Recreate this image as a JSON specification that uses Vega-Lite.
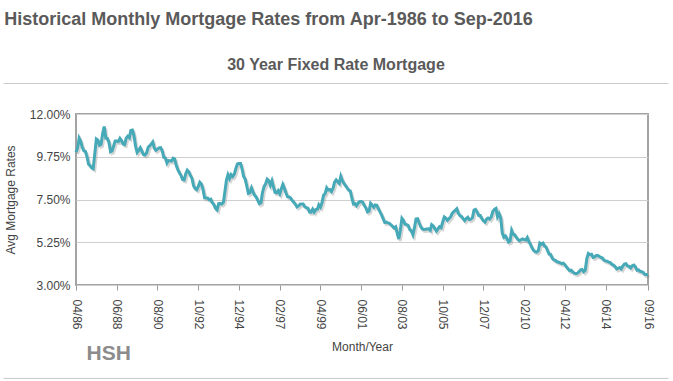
{
  "$schema": "https://vega.github.io/schema/vega-lite/v6.json",
  "background": "white",
  "padding": {"left": 4, "top": 11, "right": 3, "bottom": 2},
  "title": {"text": "Historical Monthly Mortgage Rates from Apr-1986 to Sep-2016", "anchor": "start", "font": "Liberation Sans", "fontSize": 18, "fontWeight": "bold", "color": "#5a5a5a", "offset": 27},
  "width": 572,
  "height": 171,
  "view": {"stroke": "#a3a3a3", "strokeWidth": 2},
  "resolve": {"scale": {"x": "independent"}, "axis": {"x": "independent"}},
  "layer": [
    {
      "data": {"values": [
{"d":"1986-04-01","r":9.99},{"d":"1986-05-01","r":10.20},{"d":"1986-06-01","r":10.73},{"d":"1986-07-01","r":10.56},{"d":"1986-08-01","r":10.25},{"d":"1986-09-01","r":10.06},{"d":"1986-10-01","r":10.03},{"d":"1986-11-01","r":9.75},{"d":"1986-12-01","r":9.36},
{"d":"1987-01-01","r":9.28},{"d":"1987-02-01","r":9.16},{"d":"1987-03-01","r":9.12},{"d":"1987-04-01","r":9.91},{"d":"1987-05-01","r":10.68},{"d":"1987-06-01","r":10.62},{"d":"1987-07-01","r":10.36},{"d":"1987-08-01","r":10.41},{"d":"1987-09-01","r":10.97},{"d":"1987-10-01","r":11.34},{"d":"1987-11-01","r":10.73},{"d":"1987-12-01","r":10.72},
{"d":"1988-01-01","r":10.50},{"d":"1988-02-01","r":10.01},{"d":"1988-03-01","r":10.05},{"d":"1988-04-01","r":10.32},{"d":"1988-05-01","r":10.58},{"d":"1988-06-01","r":10.58},{"d":"1988-07-01","r":10.55},{"d":"1988-08-01","r":10.72},{"d":"1988-09-01","r":10.60},{"d":"1988-10-01","r":10.42},{"d":"1988-11-01","r":10.39},{"d":"1988-12-01","r":10.73},
{"d":"1989-01-01","r":10.83},{"d":"1989-02-01","r":10.75},{"d":"1989-03-01","r":11.13},{"d":"1989-04-01","r":11.15},{"d":"1989-05-01","r":10.87},{"d":"1989-06-01","r":10.30},{"d":"1989-07-01","r":9.98},{"d":"1989-08-01","r":10.09},{"d":"1989-09-01","r":10.23},{"d":"1989-10-01","r":10.05},{"d":"1989-11-01","r":9.87},{"d":"1989-12-01","r":9.84},
{"d":"1990-01-01","r":9.95},{"d":"1990-02-01","r":10.25},{"d":"1990-03-01","r":10.32},{"d":"1990-04-01","r":10.42},{"d":"1990-05-01","r":10.53},{"d":"1990-06-01","r":10.21},{"d":"1990-07-01","r":10.09},{"d":"1990-08-01","r":10.15},{"d":"1990-09-01","r":10.22},{"d":"1990-10-01","r":10.23},{"d":"1990-11-01","r":10.06},{"d":"1990-12-01","r":9.72},
{"d":"1991-01-01","r":9.69},{"d":"1991-02-01","r":9.42},{"d":"1991-03-01","r":9.55},{"d":"1991-04-01","r":9.54},{"d":"1991-05-01","r":9.52},{"d":"1991-06-01","r":9.67},{"d":"1991-07-01","r":9.63},{"d":"1991-08-01","r":9.29},{"d":"1991-09-01","r":9.06},{"d":"1991-10-01","r":8.91},{"d":"1991-11-01","r":8.76},{"d":"1991-12-01","r":8.55},
{"d":"1992-01-01","r":8.53},{"d":"1992-02-01","r":8.86},{"d":"1992-03-01","r":9.04},{"d":"1992-04-01","r":8.95},{"d":"1992-05-01","r":8.77},{"d":"1992-06-01","r":8.61},{"d":"1992-07-01","r":8.23},{"d":"1992-08-01","r":8.08},{"d":"1992-09-01","r":8.02},{"d":"1992-10-01","r":8.19},{"d":"1992-11-01","r":8.41},{"d":"1992-12-01","r":8.32},
{"d":"1993-01-01","r":8.03},{"d":"1993-02-01","r":7.59},{"d":"1993-03-01","r":7.58},{"d":"1993-04-01","r":7.58},{"d":"1993-05-01","r":7.49},{"d":"1993-06-01","r":7.52},{"d":"1993-07-01","r":7.33},{"d":"1993-08-01","r":7.23},{"d":"1993-09-01","r":7.03},{"d":"1993-10-01","r":6.95},{"d":"1993-11-01","r":7.28},{"d":"1993-12-01","r":7.29},
{"d":"1994-01-01","r":7.26},{"d":"1994-02-01","r":7.35},{"d":"1994-03-01","r":7.88},{"d":"1994-04-01","r":8.52},{"d":"1994-05-01","r":8.80},{"d":"1994-06-01","r":8.60},{"d":"1994-07-01","r":8.81},{"d":"1994-08-01","r":8.71},{"d":"1994-09-01","r":8.84},{"d":"1994-10-01","r":9.13},{"d":"1994-11-01","r":9.37},{"d":"1994-12-01","r":9.40},
{"d":"1995-01-01","r":9.40},{"d":"1995-02-01","r":9.08},{"d":"1995-03-01","r":8.71},{"d":"1995-04-01","r":8.57},{"d":"1995-05-01","r":8.21},{"d":"1995-06-01","r":7.82},{"d":"1995-07-01","r":7.86},{"d":"1995-08-01","r":8.11},{"d":"1995-09-01","r":7.89},{"d":"1995-10-01","r":7.73},{"d":"1995-11-01","r":7.63},{"d":"1995-12-01","r":7.45},
{"d":"1996-01-01","r":7.28},{"d":"1996-02-01","r":7.33},{"d":"1996-03-01","r":7.87},{"d":"1996-04-01","r":8.18},{"d":"1996-05-01","r":8.32},{"d":"1996-06-01","r":8.57},{"d":"1996-07-01","r":8.50},{"d":"1996-08-01","r":8.25},{"d":"1996-09-01","r":8.48},{"d":"1996-10-01","r":8.17},{"d":"1996-11-01","r":7.87},{"d":"1996-12-01","r":7.85},
{"d":"1997-01-01","r":7.97},{"d":"1997-02-01","r":7.80},{"d":"1997-03-01","r":8.05},{"d":"1997-04-01","r":8.29},{"d":"1997-05-01","r":8.09},{"d":"1997-06-01","r":7.84},{"d":"1997-07-01","r":7.65},{"d":"1997-08-01","r":7.63},{"d":"1997-09-01","r":7.58},{"d":"1997-10-01","r":7.44},{"d":"1997-11-01","r":7.36},{"d":"1997-12-01","r":7.25},
{"d":"1998-01-01","r":7.11},{"d":"1998-02-01","r":7.16},{"d":"1998-03-01","r":7.25},{"d":"1998-04-01","r":7.26},{"d":"1998-05-01","r":7.26},{"d":"1998-06-01","r":7.12},{"d":"1998-07-01","r":7.07},{"d":"1998-08-01","r":7.04},{"d":"1998-09-01","r":6.84},{"d":"1998-10-01","r":6.83},{"d":"1998-11-01","r":6.99},{"d":"1998-12-01","r":6.84},
{"d":"1999-01-01","r":6.97},{"d":"1999-02-01","r":6.99},{"d":"1999-03-01","r":7.22},{"d":"1999-04-01","r":7.10},{"d":"1999-05-01","r":7.33},{"d":"1999-06-01","r":7.73},{"d":"1999-07-01","r":7.81},{"d":"1999-08-01","r":8.12},{"d":"1999-09-01","r":8.00},{"d":"1999-10-01","r":8.03},{"d":"1999-11-01","r":7.92},{"d":"1999-12-01","r":8.09},
{"d":"2000-01-01","r":8.41},{"d":"2000-02-01","r":8.53},{"d":"2000-03-01","r":8.44},{"d":"2000-04-01","r":8.35},{"d":"2000-05-01","r":8.72},{"d":"2000-06-01","r":8.49},{"d":"2000-07-01","r":8.35},{"d":"2000-08-01","r":8.23},{"d":"2000-09-01","r":8.11},{"d":"2000-10-01","r":8.00},{"d":"2000-11-01","r":7.95},{"d":"2000-12-01","r":7.58},
{"d":"2001-01-01","r":7.26},{"d":"2001-02-01","r":7.28},{"d":"2001-03-01","r":7.18},{"d":"2001-04-01","r":7.31},{"d":"2001-05-01","r":7.38},{"d":"2001-06-01","r":7.39},{"d":"2001-07-01","r":7.36},{"d":"2001-08-01","r":7.18},{"d":"2001-09-01","r":7.05},{"d":"2001-10-01","r":6.85},{"d":"2001-11-01","r":6.89},{"d":"2001-12-01","r":7.30},
{"d":"2002-01-01","r":7.20},{"d":"2002-02-01","r":7.09},{"d":"2002-03-01","r":7.21},{"d":"2002-04-01","r":7.19},{"d":"2002-05-01","r":7.01},{"d":"2002-06-01","r":6.85},{"d":"2002-07-01","r":6.69},{"d":"2002-08-01","r":6.49},{"d":"2002-09-01","r":6.29},{"d":"2002-10-01","r":6.31},{"d":"2002-11-01","r":6.27},{"d":"2002-12-01","r":6.25},
{"d":"2003-01-01","r":6.17},{"d":"2003-02-01","r":6.09},{"d":"2003-03-01","r":6.00},{"d":"2003-04-01","r":6.06},{"d":"2003-05-01","r":5.73},{"d":"2003-06-01","r":5.42},{"d":"2003-07-01","r":5.88},{"d":"2003-08-01","r":6.51},{"d":"2003-09-01","r":6.40},{"d":"2003-10-01","r":6.20},{"d":"2003-11-01","r":6.18},{"d":"2003-12-01","r":6.13},
{"d":"2004-01-01","r":5.91},{"d":"2004-02-01","r":5.84},{"d":"2004-03-01","r":5.65},{"d":"2004-04-01","r":6.03},{"d":"2004-05-01","r":6.47},{"d":"2004-06-01","r":6.49},{"d":"2004-07-01","r":6.26},{"d":"2004-08-01","r":6.07},{"d":"2004-09-01","r":5.95},{"d":"2004-10-01","r":5.92},{"d":"2004-11-01","r":5.93},{"d":"2004-12-01","r":5.95},
{"d":"2005-01-01","r":5.96},{"d":"2005-02-01","r":5.88},{"d":"2005-03-01","r":6.18},{"d":"2005-04-01","r":6.11},{"d":"2005-05-01","r":5.97},{"d":"2005-06-01","r":5.83},{"d":"2005-07-01","r":5.95},{"d":"2005-08-01","r":6.07},{"d":"2005-09-01","r":6.02},{"d":"2005-10-01","r":6.32},{"d":"2005-11-01","r":6.58},{"d":"2005-12-01","r":6.52},
{"d":"2006-01-01","r":6.40},{"d":"2006-02-01","r":6.50},{"d":"2006-03-01","r":6.57},{"d":"2006-04-01","r":6.76},{"d":"2006-05-01","r":6.85},{"d":"2006-06-01","r":6.93},{"d":"2006-07-01","r":7.01},{"d":"2006-08-01","r":6.77},{"d":"2006-09-01","r":6.65},{"d":"2006-10-01","r":6.61},{"d":"2006-11-01","r":6.49},{"d":"2006-12-01","r":6.39},
{"d":"2007-01-01","r":6.50},{"d":"2007-02-01","r":6.57},{"d":"2007-03-01","r":6.44},{"d":"2007-04-01","r":6.46},{"d":"2007-05-01","r":6.54},{"d":"2007-06-01","r":6.94},{"d":"2007-07-01","r":6.98},{"d":"2007-08-01","r":6.85},{"d":"2007-09-01","r":6.66},{"d":"2007-10-01","r":6.66},{"d":"2007-11-01","r":6.49},{"d":"2007-12-01","r":6.38},
{"d":"2008-01-01","r":6.31},{"d":"2008-02-01","r":6.47},{"d":"2008-03-01","r":6.52},{"d":"2008-04-01","r":6.47},{"d":"2008-05-01","r":6.59},{"d":"2008-06-01","r":6.87},{"d":"2008-07-01","r":6.98},{"d":"2008-08-01","r":7.03},{"d":"2008-09-01","r":6.59},{"d":"2008-10-01","r":6.75},{"d":"2008-11-01","r":6.54},{"d":"2008-12-01","r":5.73},
{"d":"2009-01-01","r":5.51},{"d":"2009-02-01","r":5.58},{"d":"2009-03-01","r":5.45},{"d":"2009-04-01","r":5.26},{"d":"2009-05-01","r":5.31},{"d":"2009-06-01","r":5.87},{"d":"2009-07-01","r":5.67},{"d":"2009-08-01","r":5.64},{"d":"2009-09-01","r":5.51},{"d":"2009-10-01","r":5.40},{"d":"2009-11-01","r":5.33},{"d":"2009-12-01","r":5.38},
{"d":"2010-01-01","r":5.43},{"d":"2010-02-01","r":5.39},{"d":"2010-03-01","r":5.37},{"d":"2010-04-01","r":5.50},{"d":"2010-05-01","r":5.29},{"d":"2010-06-01","r":5.14},{"d":"2010-07-01","r":4.96},{"d":"2010-08-01","r":4.83},{"d":"2010-09-01","r":4.75},{"d":"2010-10-01","r":4.73},{"d":"2010-11-01","r":4.80},{"d":"2010-12-01","r":5.21},
{"d":"2011-01-01","r":5.15},{"d":"2011-02-01","r":5.20},{"d":"2011-03-01","r":5.05},{"d":"2011-04-01","r":5.00},{"d":"2011-05-01","r":4.80},{"d":"2011-06-01","r":4.62},{"d":"2011-07-01","r":4.60},{"d":"2011-08-01","r":4.40},{"d":"2011-09-01","r":4.32},{"d":"2011-10-01","r":4.30},{"d":"2011-11-01","r":4.22},{"d":"2011-12-01","r":4.20},
{"d":"2012-01-01","r":4.16},{"d":"2012-02-01","r":4.12},{"d":"2012-03-01","r":4.15},{"d":"2012-04-01","r":4.07},{"d":"2012-05-01","r":3.95},{"d":"2012-06-01","r":3.86},{"d":"2012-07-01","r":3.75},{"d":"2012-08-01","r":3.78},{"d":"2012-09-01","r":3.68},{"d":"2012-10-01","r":3.62},{"d":"2012-11-01","r":3.60},{"d":"2012-12-01","r":3.62},
{"d":"2013-01-01","r":3.70},{"d":"2013-02-01","r":3.80},{"d":"2013-03-01","r":3.82},{"d":"2013-04-01","r":3.70},{"d":"2013-05-01","r":3.78},{"d":"2013-06-01","r":4.40},{"d":"2013-07-01","r":4.66},{"d":"2013-08-01","r":4.60},{"d":"2013-09-01","r":4.62},{"d":"2013-10-01","r":4.45},{"d":"2013-11-01","r":4.48},{"d":"2013-12-01","r":4.55},
{"d":"2014-01-01","r":4.55},{"d":"2014-02-01","r":4.50},{"d":"2014-03-01","r":4.45},{"d":"2014-04-01","r":4.42},{"d":"2014-05-01","r":4.30},{"d":"2014-06-01","r":4.27},{"d":"2014-07-01","r":4.25},{"d":"2014-08-01","r":4.20},{"d":"2014-09-01","r":4.18},{"d":"2014-10-01","r":4.08},{"d":"2014-11-01","r":4.05},{"d":"2014-12-01","r":3.98},
{"d":"2015-01-01","r":3.85},{"d":"2015-02-01","r":3.88},{"d":"2015-03-01","r":3.92},{"d":"2015-04-01","r":3.85},{"d":"2015-05-01","r":4.00},{"d":"2015-06-01","r":4.10},{"d":"2015-07-01","r":4.12},{"d":"2015-08-01","r":4.00},{"d":"2015-09-01","r":3.98},{"d":"2015-10-01","r":3.90},{"d":"2015-11-01","r":4.02},{"d":"2015-12-01","r":4.05},
{"d":"2016-01-01","r":3.95},{"d":"2016-02-01","r":3.78},{"d":"2016-03-01","r":3.80},{"d":"2016-04-01","r":3.72},{"d":"2016-05-01","r":3.70},{"d":"2016-06-01","r":3.66},{"d":"2016-07-01","r":3.55},{"d":"2016-08-01","r":3.55},{"d":"2016-09-01","r":3.52}
      ]},
      "encoding": {
        "x": {
          "field": "d", "type": "temporal",
          "scale": {"type": "utc", "domain": [{"year": 1986, "month": 4, "date": 1, "utc": true}, {"year": 2016, "month": 9, "date": 1, "utc": true}]},
          "axis": {
            "orient": "bottom",
            "title": "Month/Year",
            "values": [
              {"year": 1986, "month": 4, "date": 1, "utc": true},
              {"year": 1988, "month": 6, "date": 1, "utc": true},
              {"year": 1990, "month": 8, "date": 1, "utc": true},
              {"year": 1992, "month": 10, "date": 1, "utc": true},
              {"year": 1994, "month": 12, "date": 1, "utc": true},
              {"year": 1997, "month": 2, "date": 1, "utc": true},
              {"year": 1999, "month": 4, "date": 1, "utc": true},
              {"year": 2001, "month": 6, "date": 1, "utc": true},
              {"year": 2003, "month": 8, "date": 1, "utc": true},
              {"year": 2005, "month": 10, "date": 1, "utc": true},
              {"year": 2007, "month": 12, "date": 1, "utc": true},
              {"year": 2010, "month": 2, "date": 1, "utc": true},
              {"year": 2012, "month": 4, "date": 1, "utc": true},
              {"year": 2014, "month": 6, "date": 1, "utc": true},
              {"year": 2016, "month": 9, "date": 1, "utc": true}
            ],
            "labelExpr": "utcFormat(datum.value, '%m/%y')",
            "labelAngle": 90,
            "labelAlign": "left",
            "labelBaseline": "middle",
            "labelPadding": 9,
            "labelFlush": false,
            "labelOverlap": false,
            "tickSize": 5,
            "tickColor": "#999999",
            "domain": false,
            "grid": false,
            "titlePadding": 12
          }
        },
        "y": {
          "field": "r", "type": "quantitative",
          "scale": {"domain": [3, 12], "nice": false, "zero": false},
          "axis": {
            "title": "Avg Mortgage Rates",
            "values": [3, 5.25, 7.5, 9.75, 12],
            "labelExpr": "format(datum.value, '.2f') + '%'",
            "grid": true,
            "gridColor": "#cfcfcf",
            "gridWidth": 1,
            "domain": false,
            "ticks": false,
            "labelPadding": 6,
            "labelFlush": false,
            "titlePadding": 12
          }
        }
      },
      "layer": [
        {"mark": {"type": "line", "color": "#8a8a8a", "opacity": 0.35, "strokeWidth": 3, "xOffset": 1.5, "yOffset": 2}},
        {"mark": {"type": "line", "color": "#46a9b8", "strokeWidth": 3}}
      ]
    },
    {
      "data": {"values": [{"h": 0.5}]},
      "mark": {"type": "point", "opacity": 0, "size": 0},
      "encoding": {
        "x": {
          "field": "h", "type": "quantitative",
          "scale": {"domain": [0, 1], "range": [-73, 592], "nice": false, "zero": false},
          "axis": {
            "orient": "top",
            "offset": 31,
            "title": "30 Year Fixed Rate Mortgage",
            "titleFont": "Liberation Sans",
            "titleFontSize": 16,
            "titleFontWeight": "bold",
            "titleColor": "#5a5a5a",
            "titlePadding": 11,
            "domain": true,
            "domainColor": "#cccccc",
            "domainWidth": 1,
            "ticks": false,
            "labels": false,
            "grid": false
          }
        }
      }
    },
    {
      "data": {"values": [{"f": 0.5}]},
      "mark": {"type": "point", "opacity": 0, "size": 0},
      "encoding": {
        "x": {
          "field": "f", "type": "quantitative",
          "scale": {"domain": [0, 1], "range": [-73, 592], "nice": false, "zero": false},
          "axis": {
            "orient": "bottom",
            "offset": 93,
            "title": "HSH",
            "titleFont": "Liberation Sans",
            "titleFontSize": 21,
            "titleFontWeight": "bold",
            "titleColor": "#8c8c8c",
            "titleAnchor": "start",
            "titleAlign": "left",
            "titleBaseline": "alphabetic",
            "titleX": 10,
            "titleY": -19,
            "domain": true,
            "domainColor": "#cccccc",
            "domainWidth": 1,
            "ticks": false,
            "labels": false,
            "grid": false
          }
        }
      }
    }
  ],
  "config": {
    "font": "Liberation Sans",
    "axis": {"labelFont": "Liberation Sans", "labelFontSize": 12, "labelColor": "#444444", "titleFont": "Liberation Sans", "titleFontSize": 12, "titleFontWeight": "normal", "titleColor": "#444444"}
  }
}
